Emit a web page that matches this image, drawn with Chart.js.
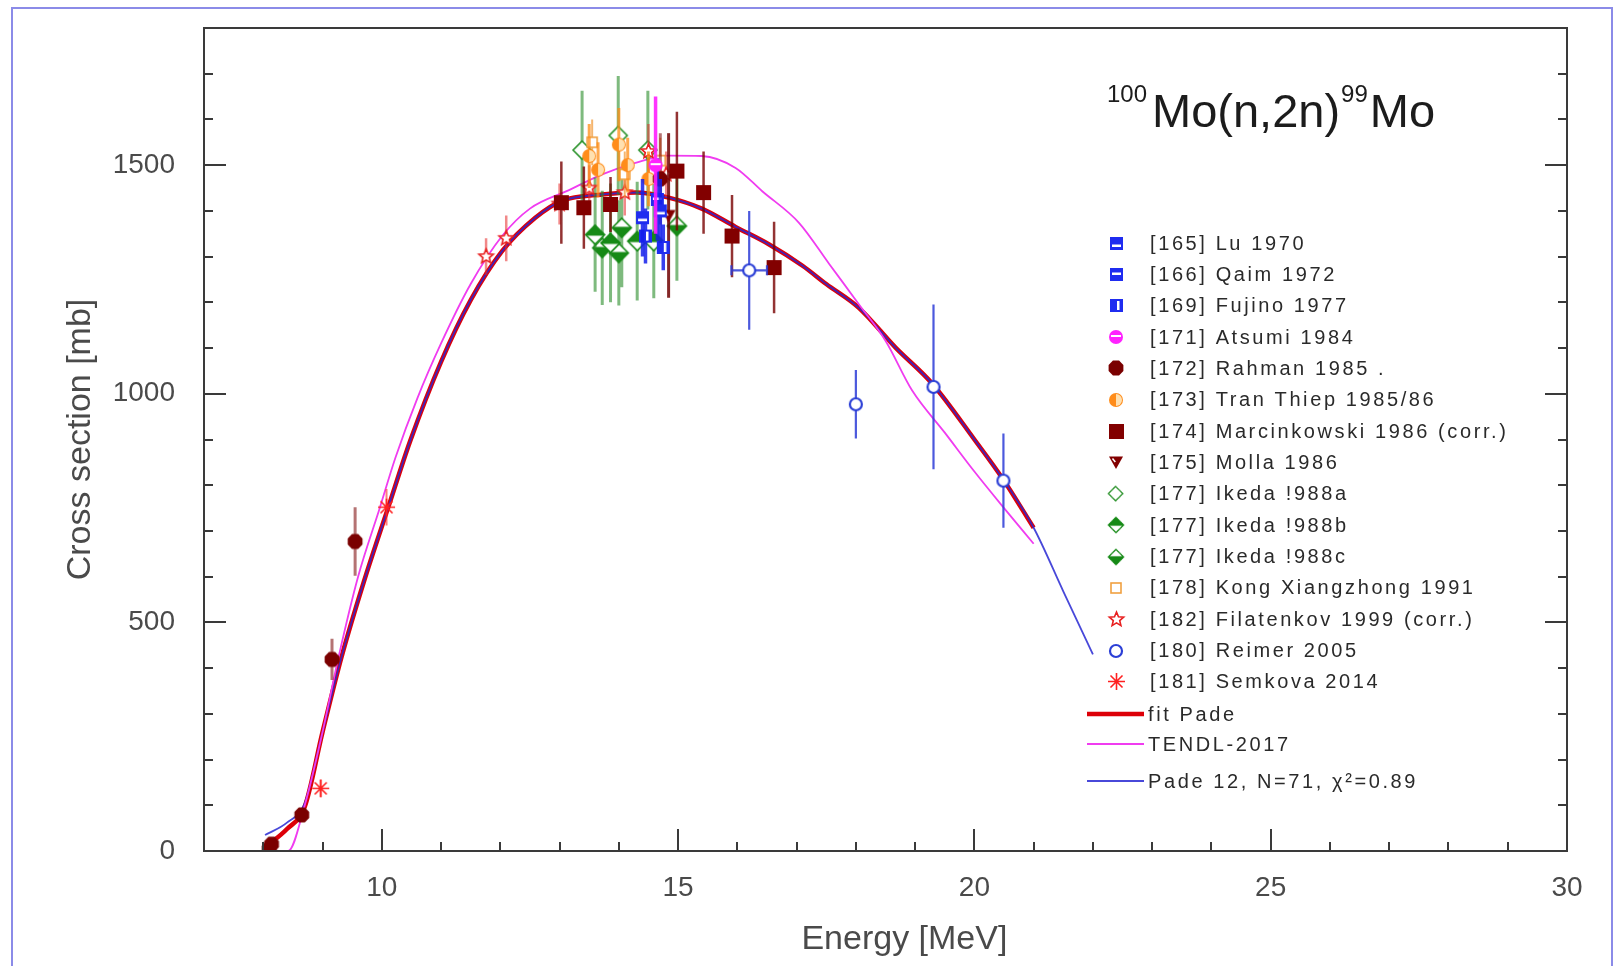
<!DOCTYPE html>
<html>
<head>
<meta charset="utf-8">
<title>100Mo(n,2n)99Mo</title>
<script src="https://cdn.jsdelivr.net/npm/chart.js@4.4.1/dist/chart.umd.min.js"></script>
<style>
  html, body { margin: 0; padding: 0; background: #fff; }
  #wrap { position: relative; width: 1615px; height: 966px; overflow: hidden; }
  #chart { position: absolute; left: 0; top: 0; }
  #frame { position: absolute; left: 11px; top: 7px; width: 1602px; height: 1000px; border: 2px solid #8b8be8; box-sizing: border-box; pointer-events: none; }
</style>
</head>
<body>
<div id="wrap">
  <canvas id="chart" width="1615" height="966"></canvas>
  <div id="frame"></div>
</div>
<script>
// energies in MeV, cross sections (and errors) in mb
const luE = [14.40, 14.70];
const luS = [1385, 1400];
const luErr = [85, 70];
const qaimE = [14.65];
const qaimS = [1425];
const qaimErr = [90];
const fujinoE = [14.45, 14.75];
const fujinoS = [1345, 1320];
const fujinoErr = [60, 50];
const atsumiE = [14.62];
const atsumiS = [1500];
const atsumiErr = [150];
const rahmanE = [8.10, 8.14, 8.65, 9.16, 9.55, 14.70];
const rahmanS = [5, 15, 79, 419, 677, 1470];
const rahmanErr = [5, 8, 15, 45, 75, 100];
const tranE = [13.50, 13.65, 14.00, 14.15, 14.50];
const tranS = [1520, 1490, 1545, 1500, 1470];
const tranErr = [70, 60, 80, 60, 60];
const marcE = [13.03, 13.41, 13.86, 14.98, 15.43, 15.91, 16.62];
const marcS = [1418, 1407, 1414, 1487, 1440, 1345, 1276];
const marcErr = [90, 90, 60, 130, 90, 90, 100];
const mollaE = [14.84];
const mollaS = [1390];
const mollaErr = [180];
const ikedaAE = [13.38, 13.99, 14.49];
const ikedaAS = [1533, 1565, 1533];
const ikedaAErr = [130, 130, 130];
const ikedaBE = [13.60, 13.86, 14.31, 14.59];
const ikedaBS = [1348, 1330, 1334, 1334];
const ikedaBErr = [125, 130, 130, 125];
const ikedaCE = [13.72, 14.00, 14.05, 14.98];
const ikedaCS = [1319, 1308, 1363, 1367];
const ikedaCErr = [125, 115, 130, 120];
const kongE = [13.55, 14.10, 14.70];
const kongS = [1550, 1480, 1510];
const kongErr = [50, 50, 50];
const filE = [11.76, 12.10, 13.00, 13.50, 14.10, 14.50, 14.80];
const filS = [1300, 1340, 1415, 1450, 1440, 1530, 1480];
const filErr = [40, 50, 45, 50, 50, 60, 50];
const reimerE = [16.20, 18.00, 19.31, 20.49];
const reimerS = [1270, 977, 1015, 810];
const reimerErr = [130, 75, 180, 103];
const reimerEErr = [0.30, 0, 0, 0];
const semE = [8.97, 10.08];
const semS = [137, 752];
const semErr = [20, 40];

// evaluated curves
const fitE = [8.03, 8.4, 8.7, 9.0, 9.32, 9.7, 10.11, 10.48, 11.0, 11.5, 12.03, 12.59, 13.04, 13.72, 14.28, 14.84, 15.4, 15.97, 16.53, 17.1, 17.5, 18.05, 18.67, 19.29, 20.0, 20.5, 21.0];
const fitS = [8, 48, 97, 260, 424, 590, 752, 897, 1070, 1205, 1312, 1385, 1422, 1436, 1440, 1429, 1405, 1365, 1327, 1280, 1240, 1188, 1101, 1022, 900, 810, 707];
const padeE = [8.03, 8.4, 8.7, 9.0, 9.32, 9.7, 10.11, 10.48, 11.0, 11.5, 12.03, 12.59, 13.04, 13.72, 14.28, 14.84, 15.4, 15.97, 16.53, 17.1, 17.5, 18.05, 18.67, 19.29, 20.0, 20.5, 21.0, 21.5, 22.0];
const padeS = [35, 62, 105, 260, 424, 590, 752, 897, 1070, 1205, 1312, 1385, 1422, 1436, 1440, 1429, 1405, 1365, 1327, 1280, 1240, 1188, 1101, 1022, 900, 810, 707, 568, 430];
const tendlE = [8.12, 8.42, 8.7, 9.0, 9.27, 9.6, 9.97, 10.23, 10.6, 11.0, 11.5, 12.03, 12.5, 13.15, 13.72, 14.28, 14.84, 15.4, 15.97, 16.42, 17.04, 17.55, 18.05, 18.5, 18.95, 19.5, 20.0, 20.5, 21.0];
const tendlS = [0, 0, 100, 260, 424, 600, 752, 860, 990, 1110, 1240, 1345, 1405, 1445, 1480, 1505, 1521, 1520, 1494, 1443, 1374, 1284, 1196, 1116, 1007, 915, 830, 750, 672];

// labelled ticks
const xLabels = [10, 15, 20, 25, 30];
const yLabels = [0, 500, 1000, 1500];

const FONT = '"Liberation Sans", Arial, sans-serif';
const pts = (xs, ys) => xs.map((x, i) => ({ x: x, y: ys[i] }));

// small canvases used as point styles (and again in the legend)
function makeMarker(kind, color, size) {
  const c = document.createElement('canvas');
  c.width = c.height = size + 6;
  const g = c.getContext('2d');
  const m = c.width / 2, r = size / 2;
  g.fillStyle = color;
  g.strokeStyle = color;
  g.lineWidth = 1.6;
  const path = (p) => { g.beginPath(); p.forEach((q, i) => i ? g.lineTo(q[0], q[1]) : g.moveTo(q[0], q[1])); g.closePath(); };
  const diamond = () => path([[m, m - r], [m + r, m], [m, m + r], [m - r, m]]);
  const halfFill = (y0, y1) => { g.save(); g.beginPath(); g.rect(0, y0, c.width, y1 - y0); g.clip(); diamond(); g.fill(); g.restore(); };

  if (kind === 'square') {
    g.fillRect(m - r, m - r, size, size);
  } else if (kind === 'squareLow' || kind === 'squareMid') {
    g.fillRect(m - r, m - r, size, size);
    g.fillStyle = '#fff';
    g.fillRect(m - r + 2, kind === 'squareLow' ? m + 1 : m - 2, size - 4, 2.5);
  } else if (kind === 'squareHalf') {
    g.fillRect(m - r, m - r, size, size);
    g.fillStyle = '#fff';
    g.fillRect(m + 0.5, m - r + 2, 2.5, size - 4);
  } else if (kind === 'squareOpen') {
    g.fillStyle = '#fff';
    g.fillRect(m - r, m - r, size, size);
    g.strokeRect(m - r, m - r, size, size);
  } else if (kind === 'circleBand') {
    g.beginPath(); g.arc(m, m, r, 0, Math.PI * 2); g.fill();
    g.fillStyle = '#fff';
    g.fillRect(m - r + 2, m - 2, size - 4, 2);
  } else if (kind === 'circleHalf') {
    g.beginPath(); g.arc(m, m, r, 0, Math.PI * 2); g.fill();
    g.fillStyle = '#ffe0b0';
    g.beginPath(); g.arc(m, m, r - 1, -Math.PI / 2, Math.PI / 2); g.fill();
  } else if (kind === 'hexagon') {
    const p = [];
    for (let k = 0; k < 8; k++) p.push([m + r * Math.cos(k * Math.PI / 4 + Math.PI / 8), m + r * Math.sin(k * Math.PI / 4 + Math.PI / 8)]);
    path(p); g.fill();
  } else if (kind === 'triDown') {
    path([[m - r, m - r * 0.8], [m + r, m - r * 0.8], [m, m + r]]); g.fill();
    g.strokeStyle = '#fff'; g.lineWidth = 1.5;
    g.beginPath(); g.moveTo(m - r * 0.5, m - r * 0.5); g.lineTo(m - r * 0.1, m); g.stroke();
  } else if (kind === 'diamondOpen') {
    diamond(); g.fillStyle = '#fff'; g.fill(); g.stroke();
  } else if (kind === 'diamondTop') {
    diamond(); g.fillStyle = '#fff'; g.fill(); g.fillStyle = color;
    halfFill(0, m + 1); diamond(); g.stroke();
  } else if (kind === 'diamondBottom') {
    diamond(); g.fillStyle = '#fff'; g.fill(); g.fillStyle = color;
    halfFill(m - 1, c.height); diamond(); g.stroke();
  } else if (kind === 'star') {
    const p = [];
    for (let k = 0; k < 10; k++) {
      const rr = k % 2 ? r * 0.45 : r;
      const a = -Math.PI / 2 + k * Math.PI / 5;
      p.push([m + rr * Math.cos(a), m + rr * Math.sin(a)]);
    }
    path(p); g.fillStyle = '#fff'; g.fill(); g.stroke();
  } else if (kind === 'circleOpen') {
    g.lineWidth = 2.2;
    g.beginPath(); g.arc(m, m, r - 1, 0, Math.PI * 2); g.fillStyle = '#fff'; g.fill(); g.stroke();
  } else if (kind === 'asterisk') {
    g.lineWidth = 1.6;
    g.beginPath();
    for (let k = 0; k < 4; k++) {
      const a = k * Math.PI / 4;
      g.moveTo(m - r * Math.cos(a), m - r * Math.sin(a));
      g.lineTo(m + r * Math.cos(a), m + r * Math.sin(a));
    }
    g.stroke();
  }
  c.kind = kind;
  return c;
}

function expSet(label, xs, ys, errs, marker, errColor, errWidth, order) {
  return {
    label: label,
    data: pts(xs, ys),
    yErr: errs,
    errColor: errColor,
    errWidth: errWidth,
    pointStyle: marker,
    pointRadius: 8,
    order: order
  };
}

function curveSet(label, xs, ys, color, width, order) {
  return {
    label: label,
    data: pts(xs, ys),
    showLine: true,
    borderColor: color,
    borderWidth: width,
    pointRadius: 0,
    cubicInterpolationMode: 'monotone',
    order: order
  };
}

const datasets = [
  expSet('[165] Lu 1970', luE, luS, luErr, makeMarker('squareLow', '#1f2cf0', 13), 'rgba(20,30,235,0.85)', 3.5, 2),
  expSet('[166] Qaim 1972', qaimE, qaimS, qaimErr, makeMarker('squareMid', '#1f2cf0', 13), 'rgba(20,30,235,0.85)', 3.5, 2),
  expSet('[169] Fujino 1977', fujinoE, fujinoS, fujinoErr, makeMarker('squareHalf', '#1f2cf0', 13), 'rgba(20,30,235,0.85)', 3.5, 2),
  expSet('[171] Atsumi 1984', atsumiE, atsumiS, atsumiErr, makeMarker('circleBand', '#ff22ff', 14), 'rgba(255,30,255,0.9)', 3.5, 1),
  expSet('[172] Rahman 1985 .', rahmanE, rahmanS, rahmanErr, makeMarker('hexagon', '#7a0000', 16), 'rgba(120,0,0,0.55)', 3, 3),
  expSet('[173] Tran Thiep 1985/86', tranE, tranS, tranErr, makeMarker('circleHalf', '#ff8c1a', 14), 'rgba(255,140,20,0.75)', 3, 4),
  expSet('[174] Marcinkowski 1986 (corr.)', marcE, marcS, marcErr, makeMarker('square', '#820000', 15), 'rgba(120,0,0,0.8)', 2.5, 3),
  expSet('[175] Molla 1986', mollaE, mollaS, mollaErr, makeMarker('triDown', '#820000', 14), 'rgba(110,0,0,0.85)', 3, 3),
  expSet('[177] Ikeda !988a', ikedaAE, ikedaAS, ikedaAErr, makeMarker('diamondOpen', '#2a922a', 18), 'rgba(40,140,40,0.6)', 3, 5),
  expSet('[177] Ikeda !988b', ikedaBE, ikedaBS, ikedaBErr, makeMarker('diamondTop', '#168a16', 19), 'rgba(40,140,40,0.6)', 3, 5),
  expSet('[177] Ikeda !988c', ikedaCE, ikedaCS, ikedaCErr, makeMarker('diamondBottom', '#168a16', 19), 'rgba(40,140,40,0.6)', 3, 5),
  expSet('[178] Kong Xiangzhong 1991', kongE, kongS, kongErr, makeMarker('squareOpen', '#f0a040', 10), 'rgba(240,150,50,0.7)', 2, 4),
  expSet('[182] Filatenkov 1999 (corr.)', filE, filS, filErr, makeMarker('star', '#e82020', 15), 'rgba(230,40,40,0.55)', 2.5, 4),
  {
    ...expSet('[180] Reimer 2005', reimerE, reimerS, reimerErr, makeMarker('circleOpen', '#2b3fd6', 14), 'rgba(45,60,215,0.85)', 2.2, 2),
    xErr: reimerEErr
  },
  expSet('[181] Semkova 2014', semE, semS, semErr, makeMarker('asterisk', '#ff2020', 17), 'rgba(255,40,40,0.6)', 2, 2),
  curveSet('fit Pade', fitE, fitS, '#dd0008', 4.5, 12),
  curveSet('TENDL-2017', tendlE, tendlS, '#f03cf0', 1.8, 10),
  curveSet('Pade 12, N=71, \u03c7\u00b2=0.89', padeE, padeS, 'rgba(40,40,210,0.85)', 1.8, 11)
];

// vertical (and horizontal) error bars, drawn right before each dataset's points
const errorBars = {
  id: 'errorBars',
  beforeDatasetDraw(chart, args) {
    const ds = chart.data.datasets[args.index];
    if (!ds.yErr) return;
    const { ctx, chartArea: a, scales: { x, y } } = chart;
    ctx.save();
    ctx.beginPath();
    ctx.rect(a.left, a.top, a.right - a.left, a.bottom - a.top);
    ctx.clip();
    ctx.strokeStyle = ds.errColor;
    ctx.lineWidth = ds.errWidth;
    ctx.beginPath();
    ds.data.forEach((p, i) => {
      const px = x.getPixelForValue(p.x);
      ctx.moveTo(px, y.getPixelForValue(p.y - ds.yErr[i]));
      ctx.lineTo(px, y.getPixelForValue(p.y + ds.yErr[i]));
      const xe = ds.xErr ? ds.xErr[i] : 0;
      if (xe) {
        const py = y.getPixelForValue(p.y);
        const x0 = x.getPixelForValue(p.x - xe);
        const x1 = x.getPixelForValue(p.x + xe);
        ctx.moveTo(x0, py); ctx.lineTo(x1, py);
        ctx.moveTo(x0, py - 5); ctx.lineTo(x0, py + 5);
        ctx.moveTo(x1, py - 5); ctx.lineTo(x1, py + 5);
      }
    });
    ctx.stroke();
    ctx.restore();
  }
};

// box around the plot with inward ticks (left, right and bottom)
const frameTicks = {
  id: 'frameTicks',
  afterDatasetsDraw(chart) {
    const { ctx, chartArea: a, scales: { x, y } } = chart;
    ctx.save();
    ctx.strokeStyle = '#3a3a3a';
    ctx.lineWidth = 2;
    ctx.strokeRect(a.left, a.top, a.right - a.left, a.bottom - a.top);
    ctx.beginPath();
    x.ticks.forEach(t => {
      const px = Math.round(x.getPixelForValue(t.value));
      const len = xLabels.includes(t.value) ? 22 : 9;
      ctx.moveTo(px, a.bottom);
      ctx.lineTo(px, a.bottom - len);
    });
    y.ticks.forEach(t => {
      const py = Math.round(y.getPixelForValue(t.value));
      const len = yLabels.includes(t.value) ? 22 : 9;
      ctx.moveTo(a.left, py); ctx.lineTo(a.left + len, py);
      ctx.moveTo(a.right, py); ctx.lineTo(a.right - len, py);
    });
    ctx.stroke();
    ctx.restore();
  }
};

// reaction title and the legend inside the plot
const titleLegend = {
  id: 'titleLegend',
  afterDraw(chart) {
    const ctx = chart.ctx;
    ctx.save();
    ctx.fillStyle = '#1c1c1c';
    ctx.textBaseline = 'alphabetic';
    let tx = 1107;
    ctx.font = '24px ' + FONT;
    ctx.fillText('100', tx, 102);
    tx += ctx.measureText('100').width + 5;
    ctx.font = '47px ' + FONT;
    ctx.fillText('Mo(n,2n)', tx, 127);
    tx += ctx.measureText('Mo(n,2n)').width + 1;
    ctx.font = '24px ' + FONT;
    ctx.fillText('99', tx, 102);
    tx += ctx.measureText('99').width + 2;
    ctx.font = '47px ' + FONT;
    ctx.fillText('Mo', tx, 127);

    ctx.font = '20px ' + FONT;
    ctx.letterSpacing = '2.6px';
    ctx.textBaseline = 'middle';
    ctx.fillStyle = '#2a2a2a';
    let ly = 243;
    chart.data.datasets.forEach((ds, i) => {
      if (ds.showLine) {
        ly = i === 15 ? 714 : ly + (i === 17 ? 37 : 30);
        ctx.strokeStyle = ds.borderColor;
        ctx.lineWidth = ds.borderWidth;
        ctx.beginPath();
        ctx.moveTo(1087, ly);
        ctx.lineTo(1144, ly);
        ctx.stroke();
        ctx.fillText(ds.label, 1148, ly + 1);
      } else {
        ly = 243 + i * 31.35;
        const mk = ds.pointStyle;
        // legend diamonds are a bit smaller than in the plot
        const w = mk.kind.startsWith('diamond') ? mk.width * 0.8 : mk.width;
        ctx.drawImage(mk, Math.round(1116 - w / 2), Math.round(ly - w / 2), w, w);
        ctx.fillText(ds.label, 1150, ly + 1);
      }
    });
    ctx.restore();
  }
};

new Chart(document.getElementById('chart'), {
  type: 'scatter',
  data: { datasets: datasets },
  plugins: [errorBars, frameTicks, titleLegend],
  options: {
    responsive: false,
    animation: false,
    layout: { padding: { left: 0, top: 28, right: 48, bottom: 0 } },
    plugins: {
      legend: { display: false },
      tooltip: { enabled: false }
    },
    scales: {
      x: {
        type: 'linear',
        min: 7,
        max: 30,
        grid: { display: false, drawTicks: false },
        border: { display: false },
        ticks: {
          stepSize: 1,
          autoSkip: false,
          maxRotation: 0,
          padding: 20,
          color: '#4a4a4a',
          font: { family: FONT, size: 28 },
          callback: v => xLabels.includes(v) ? String(v) : ''
        },
        title: {
          display: true,
          text: '    Energy [MeV]',
          color: '#4a4a4a',
          font: { family: FONT, size: 34 },
          padding: { top: 0, bottom: 6 }
        },
        afterFit: s => { s.height = 115; }
      },
      y: {
        type: 'linear',
        min: 0,
        max: 1800,
        grid: { display: false, drawTicks: false },
        border: { display: false },
        ticks: {
          stepSize: 100,
          autoSkip: false,
          padding: 29,
          color: '#4a4a4a',
          font: { family: FONT, size: 28 },
          callback: v => yLabels.includes(v) ? String(v) : ''
        },
        title: {
          display: true,
          text: 'Cross section [mb]',
          color: '#4a4a4a',
          font: { family: FONT, size: 34 },
          padding: { top: 60, bottom: 0 }
        },
        // fixed width; the label padding must not push the plot top down
        afterFit: s => { s.width = 204; s.paddingTop = 0; s.paddingBottom = 0; }
      }
    }
  }
});
</script>
</body>
</html>
